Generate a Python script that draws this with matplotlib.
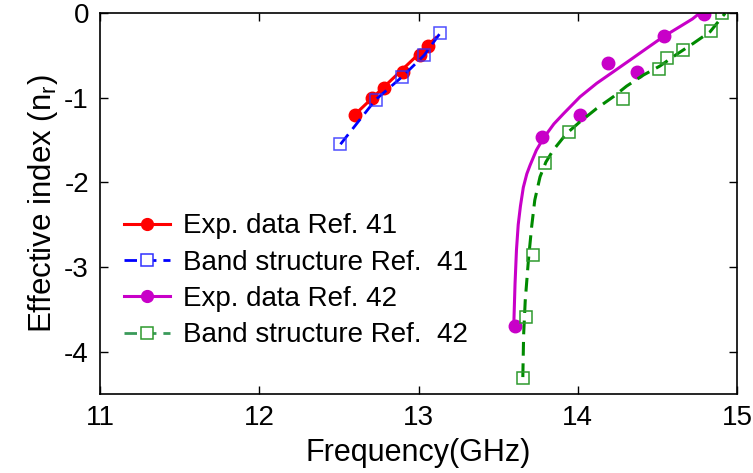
import matplotlib
matplotlib.use('Agg')
from matplotlib import pyplot as plt

plt.rcParams['font.family'] = ['Liberation Sans', 'DejaVu Sans']
plt.rcParams['mathtext.fontset'] = 'custom'
plt.rcParams['mathtext.rm'] = 'Liberation Sans'
plt.rcParams['axes.unicode_minus'] = False

# Exp. data Ref. 41
exp41_freq = [12.60, 12.71, 12.785, 12.90, 13.01, 13.06]
exp41_n = [-1.20, -1.00, -0.89, -0.70, -0.50, -0.39]
# fitted line drawn through Ref. 41 data (end points)
fit41_freq = [12.60, 13.11]
fit41_n = [-1.20, -0.29]

# Band structure Ref. 41
band41_freq = [12.51, 12.73, 12.895, 13.035, 13.135]
band41_n = [-1.55, -1.025, -0.757, -0.50, -0.24]

# Exp. data Ref. 42
exp42_freq = [13.605, 13.775, 14.015, 14.19, 14.375, 14.54, 14.79]
exp42_n = [-3.70, -1.465, -1.20, -0.595, -0.695, -0.27, -0.01]
# smooth curve for Ref. 42
curve42_freq = [13.598, 13.606, 13.615, 13.626, 13.640, 13.658, 13.68, 13.70,
                13.74, 13.784, 13.85, 13.91, 14.014, 14.119, 14.223, 14.328,
                14.433, 14.537, 14.642, 14.72, 14.80]
curve42_n = [-3.70, -3.20, -2.80, -2.50, -2.28, -2.06, -1.90, -1.80,
             -1.62, -1.48, -1.31, -1.19, -0.99, -0.83, -0.694, -0.556,
             -0.417, -0.28, -0.16, -0.07, 0.05]

# Band structure Ref. 42
band42_freq = [13.658, 13.675, 13.716, 13.794, 13.947, 14.286, 14.512,
               14.562, 14.663, 14.837, 14.904]
band42_n = [-4.31, -3.59, -2.855, -1.777, -1.403, -1.02, -0.665,
            -0.535, -0.437, -0.209, 0.005]
curve42b_freq = [13.655, 13.66, 13.67, 13.69, 13.71, 13.73, 13.763, 13.80,
                 13.846, 13.93, 14.014, 14.119, 14.223, 14.307, 14.412,
                 14.516, 14.621, 14.726, 14.831, 14.925]
curve42b_n = [-4.30, -3.80, -3.40, -2.92, -2.53, -2.21, -1.935, -1.76,
              -1.619, -1.422, -1.285, -1.127, -0.989, -0.863, -0.733,
              -0.626, -0.488, -0.358, -0.221, -0.004]

x_ticks = [11, 12, 13, 14, 15]
y_ticks = [0, -1, -2, -3, -4]

red = '#FF0000'
blue = '#0000FF'
mag = '#C800C8'
green = '#008A00'

fig = plt.figure(figsize=(7.53, 4.73), dpi=100)
ax = fig.add_axes([0.1328, 0.167, 0.846, 0.8055])

ax.plot(fit41_freq, fit41_n, c=red, lw=2.2)
ax.plot(exp41_freq, exp41_n, 'o', c=red, ms=9)
ax.plot(band41_freq, band41_n, '--', c=blue, lw=2, dashes=(4.5, 2.5))
ax.plot(band41_freq, band41_n, 's', mfc='none', mec='#3030FF', ms=9, mew=1.1, alpha=0.85)

ax.plot(curve42_freq, curve42_n, c=mag, lw=2.2)
ax.plot(exp42_freq, exp42_n, 'o', c=mag, ms=9)
ax.plot(curve42b_freq, curve42b_n, '--', c=green, lw=2.2, dashes=(4.5, 2.5))
ax.plot(band42_freq, band42_n, 's', mfc='none', mec='#2E9A2E', ms=9, mew=1.1)

# legend proxies
h1, = ax.plot([], [], '-o', c=red, lw=2.2, ms=8.5)
h2, = ax.plot([], [], '--s', c=blue, lw=2, mfc='white', mec='#3030FF', ms=8.5, mew=1.1, dashes=(4.5, 2.5))
h3, = ax.plot([], [], '-o', c=mag, lw=2.2, ms=8.5)
h4, = ax.plot([], [], '--s', c='#3A9A5A', lw=2, mfc='white', mec='#2E9A2E', ms=8.5, mew=1.1, dashes=(4.5, 2.5))
ax.legend([h1, h2, h3, h4],
          ['Exp. data Ref. 41', 'Band structure Ref.  41',
           'Exp. data Ref. 42', 'Band structure Ref.  42'],
          loc='center left', bbox_to_anchor=(0.038, 0.297), frameon=False,
          fontsize=20, numpoints=1, handlelength=1.65, handletextpad=0.45,
          labelspacing=0.37, borderpad=0, borderaxespad=0)

ax.set_xlim(11, 15)
ax.set_ylim(-4.5, 0)
ax.set_xticks(x_ticks)
ax.set_yticks(y_ticks)
ax.tick_params(direction='in', top=True, right=True, length=6, width=1,
               labelsize=20, pad=8)
for sp in ax.spines.values():
    sp.set_linewidth(1.2)

ax.set_xlabel('Frequency(GHz)', fontsize=22, labelpad=5)
ax.set_ylabel(r'Effective index (n$_\mathregular{r}$)', fontsize=22.5, labelpad=3)

fig.savefig('out.png', dpi=100)
